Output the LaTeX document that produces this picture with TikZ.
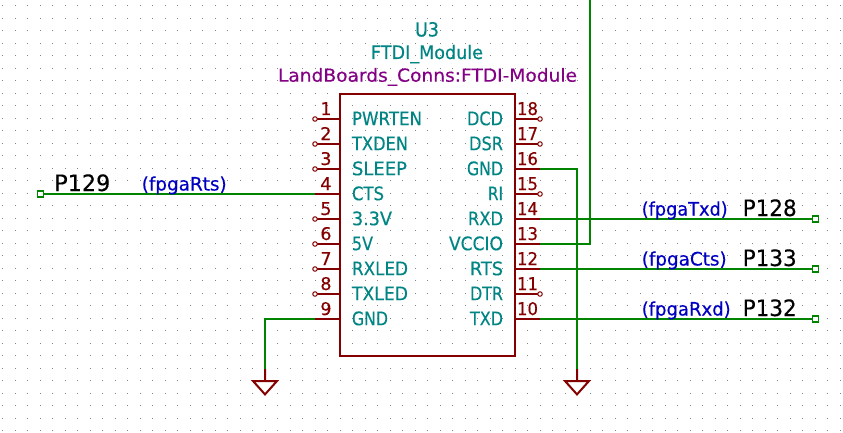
\documentclass[tikz,border=0pt]{standalone}
\usepackage{fontspec}
\setmainfont[FakeBold=0.35]{DejaVu Sans}
\definecolor{pinred}{RGB}{132,0,0}
\definecolor{wiregreen}{RGB}{0,132,0}
\definecolor{teal2}{RGB}{0,132,132}
\definecolor{purple2}{RGB}{132,0,132}
\definecolor{netblue}{RGB}{0,0,194}
\definecolor{griddot}{RGB}{132,132,132}
% fit text to a given width in px, keeping its height
\newcommand{\fitw}[2]{\resizebox{#1pt}{\height}{#2}}
\tikzset{
  x=1pt,y=-1pt,
  txt/.style={inner sep=0pt,outer sep=0pt},
  pinname/.style={txt,text=teal2,font=\fontsize{18.6}{19}\selectfont},
  pinnum/.style={txt,text=pinred,font=\fontsize{17.5}{18}\selectfont},
  netname/.style={txt,text=netblue,font=\fontsize{18.5}{19}\selectfont},
  fpgapin/.style={txt,text=black,font=\fontsize{22.5}{24}\selectfont},
  pinline/.style={draw=pinred,line width=2pt},
  bodyline/.style={draw=pinred,line width=2pt,line join=miter},
  wire/.style={draw=wiregreen,line width=2pt,line join=miter},
  nc/.style={circle,draw=pinred,fill=white,line width=1pt,inner sep=0pt,minimum size=4.5pt},
  lab/.style={rectangle,draw=wiregreen,fill=white,line width=1.2pt,inner sep=0pt,minimum size=6pt},
}
\begin{document}
\begin{tikzpicture}
\useasboundingbox (0,0) rectangle (843,433);
\fill[white] (0,0) rectangle (843,433);
% grid
\foreach \i in {0,...,67}{
  \foreach \j in {0,...,34}{
    \fill[griddot] ({int(2.5+12.5*\i)},{int(5.8+12.5*\j)}) rectangle +(1,1);
  }
}
% body
\node[draw=none,inner sep=0pt] (body) at (427.5,225) [minimum width=175pt,minimum height=262pt,bodyline] {};
% pin anchors
\foreach \n/\yy in {1/119,2/144,3/169,4/194,5/219,6/244,7/269,8/294,9/319}{
  \coordinate (in\n) at (340,\yy);
  \coordinate (L\n) at (315,\yy);
  \draw[pinline] (in\n) -- (L\n);
  \node[pinnum,anchor=base east] (numL\n) at (331.5,\yy-4) {\n};
}
\foreach \n/\yy in {18/119,17/144,16/169,15/194,14/219,13/244,12/269,11/294,10/319}{
  \coordinate (in\n) at (515,\yy);
  \coordinate (R\n) at (540,\yy);
  \draw[pinline] (in\n) -- (R\n);
  \node[pinnum,anchor=base west] (numR\n) at (517,\yy-4) {\fitw{21}{\n}};
}
% unconnected markers
\foreach \n in {1,2,3,5,6,7,8}{ \node[nc] (ncL\n) at (L\n) {}; }
\foreach \n in {18,17,15,11}{ \node[nc] (ncR\n) at (R\n) {}; }
% pin names
\foreach \n/\t/\w in {1/PWRTEN/70,2/TXDEN/56,3/SLEEP/55,4/CTS/32,5/3.3V/40,6/5V/21,7/RXLED/56,8/TXLED/56,9/GND/36}{
  \path (in\n) ++(12,6.2) node[pinname,anchor=base west] (nameL\n) {\fitw{\w}{\t}};
}
\foreach \n/\t/\w in {18/DCD/36,17/DSR/34,16/GND/36,15/RI/15,14/RXD/35,13/VCCIO/54,12/RTS/33,11/DTR/33,10/TXD/33}{
  \path (in\n) ++(-12,6.2) node[pinname,anchor=base east] (nameR\n) {\fitw{\w}{\t}};
}
% titles
\node[txt,text=teal2,font=\fontsize{19.5}{20}\selectfont,anchor=base] (ref) at (427,36.5) {\fitw{24}{U3}};
\node[txt,text=teal2,font=\fontsize{18.6}{20}\selectfont,anchor=base] (val) at (427,59) {\fitw{112}{FTDI\_Module}};
\node[txt,text=purple2,font=\fontsize{18}{20}\selectfont,anchor=base] (fp) at (427.5,81.7) {\fitw{299}{LandBoards\_Conns:FTDI-Module}};
% labels
\node[lab] (lab129) at (40.5,194) {};
\node[lab] (lab128) at (815.5,219) {};
\node[lab] (lab133) at (815.5,269) {};
\node[lab] (lab132) at (815.5,319) {};
\coordinate (gndL) at (265,369);
\coordinate (gndR) at (577,369);
\coordinate (vtop) at (590,-2);
% power symbols
\foreach \g in {gndL,gndR}{
  \draw[pinline,line join=miter] (\g) -- ++(0,12) -- ++(-12,0) -- ++(12,13.4) -- ++(12,-13.4) -- ++(-12,0);
}
% wires
\draw[wire] (lab129.east) -- (L4);
\draw[wire] (L9) -| (gndL);
\draw[wire] (R16) -| (gndR);
\draw[wire] (R14) -- (lab128.west);
\draw[wire] (R12) -- (lab133.west);
\draw[wire] (R10) -- (lab132.west);
\draw[wire] (R13) -| (vtop);
% net names and port names
\node[netname,anchor=base west] (nRts) at (141.7,190.5) {\fitw{85}{(fpgaRts)}};
\node[netname,anchor=base west] (nTxd) at (641.7,215.5) {\fitw{86}{(fpgaTxd)}};
\node[netname,anchor=base west] (nCts) at (641.7,265.5) {\fitw{85}{(fpgaCts)}};
\node[netname,anchor=base west] (nRxd) at (641.7,315.5) {\fitw{89}{(fpgaRxd)}};
\node[fpgapin,anchor=base west] (p129) at (54.3,191) {\fitw{56}{P129}};
\node[fpgapin,anchor=base west] (p128) at (742.7,216) {\fitw{54}{P128}};
\node[fpgapin,anchor=base west] (p133) at (742.7,266) {\fitw{54}{P133}};
\node[fpgapin,anchor=base west] (p132) at (742.7,316) {\fitw{54}{P132}};
\end{tikzpicture}
\end{document}
